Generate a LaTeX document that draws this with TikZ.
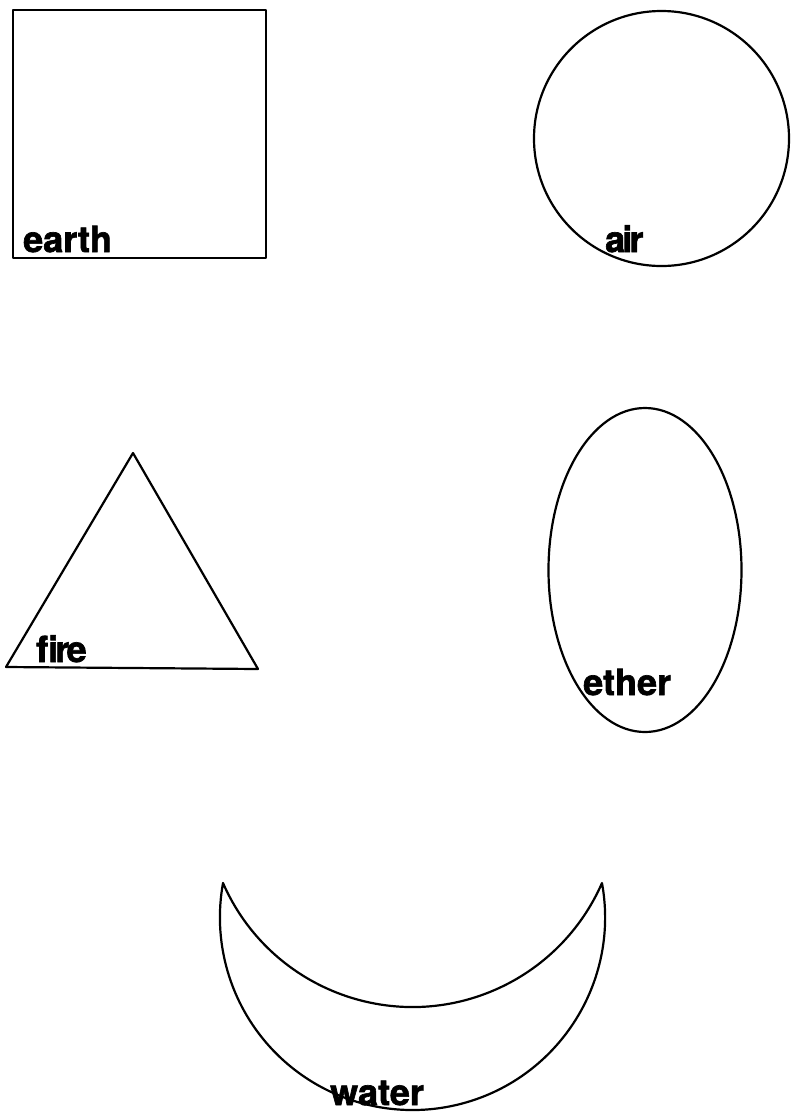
\documentclass[tikz,border=0pt]{standalone}
\usepackage{fontspec}
\setmainfont{TeX Gyre Heros}[BoldFeatures={FakeBold=1.8}]
\begin{document}
\begin{tikzpicture}[x=1pt,y=-1pt,
  shape line/.style={line width=2.2pt, line join=round},
  elabel/.style={anchor=base west, inner sep=0pt, font=\fontsize{36}{40}\selectfont\bfseries},
  tight/.style={font=\fontsize{36}{40}\selectfont\bfseries\addfontfeatures{LetterSpace=-8}}]
\useasboundingbox (0,0) rectangle (791,1112);
% earth: square
\draw[shape line] (13,10) rectangle (266,258);
\node[elabel] (earth) at (23,252) {earth};
% air: circle
\draw[shape line] (661.5,138.5) circle[radius=127.5];
\node[elabel,tight] (air) at (605,252) {air};
% fire: triangle
\coordinate (fa) at (133,453);
\coordinate (fl) at (6,667);
\coordinate (fr) at (258,669);
\draw[shape line] (fa) -- (fr) -- (fl) -- cycle;
\node[elabel,tight] (fire) at (36,662) {fire};
% ether: ellipse
\draw[shape line] (645,570) ellipse[x radius=96.5, y radius=162];
\node[elabel] (ether) at (583,695) {ether};
% water: crescent
\coordinate (wl) at (223,883);
\draw[shape line] (wl) arc[start angle=156.4, end angle=23.6, radius=206.8]
  arc[start angle=-10.3, end angle=190.3, radius=192.6] -- cycle;
\node[elabel] (water) at (330,1105) {water};
\end{tikzpicture}
\end{document}
